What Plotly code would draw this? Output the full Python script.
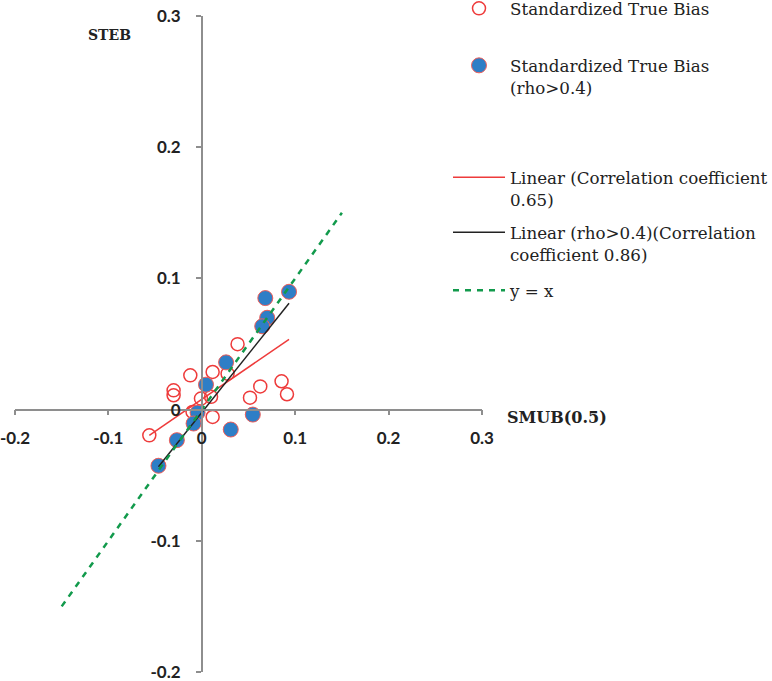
import plotly.graph_objects as go

# ---------------- data ----------------
# all points (Standardized True Bias) : SMUB(0.5) vs STEB
all_x = [0.0383, 0.0116, -0.0123, 0.0276, -0.0302, -0.0302, 0.0099, -0.0009,
         -0.0099, 0.0116, -0.0562, 0.0516, 0.0626, 0.0854, 0.0912,
         0.0934, 0.068, 0.070, 0.0647, 0.026, 0.0045, -0.0045, -0.0088,
         0.031, 0.0546, -0.0267, -0.0464]
all_y = [0.0499, 0.0287, 0.0261, 0.0274, 0.0147, 0.0109, 0.0097, 0.0084,
         -0.0018, -0.0056, -0.0196, 0.0091, 0.0177, 0.0216, 0.0117,
         0.0898, 0.085, 0.070, 0.0635, 0.036, 0.019, -0.0023, -0.0106,
         -0.0152, -0.0038, -0.0233, -0.0428]

# subset rho > 0.4
rho_x = [0.0934, 0.068, 0.070, 0.0647, 0.026, 0.0045, -0.0045, -0.0088,
         0.031, 0.0546, -0.0267, -0.0464]
rho_y = [0.0898, 0.085, 0.070, 0.0635, 0.036, 0.019, -0.0023, -0.0106,
         -0.0152, -0.0038, -0.0233, -0.0428]

# fitted trend lines (end points)
fit_all_x = [-0.0562, 0.0934]
fit_all_y = [-0.0196, 0.0536]
fit_rho_x = [-0.0464, 0.0934]
fit_rho_y = [-0.0435, 0.0810]

# reference line y = x
ref_x = [-0.15, 0.15]
ref_y = [-0.15, 0.15]

tick_vals = [-0.2, -0.1, 0.0, 0.1, 0.2, 0.3]
tick_text = ["-0.2", "-0.1", "0", "0.1", "0.2", "0.3"]

names = ["Standardized True Bias",
         "Standardized True Bias<br>(rho>0.4)",
         "Linear (Correlation coefficient<br>0.65)",
         "Linear (rho>0.4)(Correlation<br>coefficient 0.86)",
         "y = x"]

RED = "#ee3b3b"
BLUE = "#2e7ec6"
GREEN = "#129a4c"
AXC = "#8e8e8e"
W, H = 772, 681
LEFT, RIGHT, TOP, BOTTOM = 15, 482, 16, 672

fig = go.Figure()
fig.add_trace(go.Scatter(x=all_x, y=all_y, mode="markers", name=names[0],
                         marker=dict(symbol="circle", size=13, color="rgba(255,255,255,0)",
                                     line=dict(color=RED, width=1.5)),
                         legend="legend"))
fig.add_trace(go.Scatter(x=rho_x, y=rho_y, mode="markers", name=names[1],
                         marker=dict(symbol="circle", size=15, color=BLUE,
                                     line=dict(color="#f0605a", width=1)),
                         legend="legend2"))
fig.add_trace(go.Scatter(x=fit_all_x, y=fit_all_y, mode="lines", name=names[2],
                         line=dict(color=RED, width=1.5), legend="legend3"))
fig.add_trace(go.Scatter(x=fit_rho_x, y=fit_rho_y, mode="lines", name=names[3],
                         line=dict(color="#222222", width=1.5), legend="legend4"))
fig.add_trace(go.Scatter(x=ref_x, y=ref_y, mode="lines", name=names[4],
                         line=dict(color=GREEN, width=2.5, dash="6px,6px"), legend="legend5"))

LEG_OFF = 17  # distance from legend top to first line centre

def leg(py_center):
    top = py_center - LEG_OFF
    return dict(xref="paper", yref="paper", visible=True,
                x=(448 - LEFT) / (RIGHT - LEFT), y=(BOTTOM - top) / (BOTTOM - TOP),
                xanchor="left", yanchor="top", valign="top", itemwidth=52,
                bgcolor="rgba(0,0,0,0)", borderwidth=0,
                font=dict(family="DejaVu Serif", size=16.7, color="#222222"))

axis_common = dict(range=[-0.2, 0.3], tickvals=tick_vals, ticktext=tick_text,
                   showline=True, linecolor=AXC, linewidth=1.5, ticks="outside",
                   ticklen=5, tickcolor=AXC, tickwidth=1.5, showgrid=False, zeroline=False,
                   anchor="free", position=0.4, automargin=False,
                   ticklabeloverflow="allow",
                   tickfont=dict(family="Lato", size=17, color="#222222", weight="bold"))

fig.update_layout(
    width=W, height=H, showlegend=True,
    margin=dict(l=LEFT, r=W - RIGHT, t=TOP, b=H - BOTTOM, autoexpand=False),
    paper_bgcolor="white", plot_bgcolor="white",
    xaxis=dict(axis_common, ticklabelstandoff=8),
    yaxis=dict(axis_common, ticklabelstandoff=12),
    legend=leg(8),
    legend2=leg(65),
    legend3=leg(177),
    legend4=leg(232),
    legend5=leg(290),
    annotations=[
        dict(text="<b>STEB</b>", xref="paper", yref="paper",
             x=(109 - LEFT) / (RIGHT - LEFT), y=(BOTTOM - 35) / (BOTTOM - TOP),
             showarrow=False, xanchor="center", yanchor="middle",
             font=dict(family="DejaVu Serif", size=14, color="#222222")),
        dict(text="<b>SMUB(0.5)</b>", xref="paper", yref="paper",
             x=(505 - LEFT) / (RIGHT - LEFT), y=(BOTTOM - 417) / (BOTTOM - TOP),
             showarrow=False, xanchor="left", yanchor="middle",
             font=dict(family="DejaVu Serif", size=16, color="#222222")),
    ],
)

fig.write_html("out.html", config={"displayModeBar": False},
               post_script="document.body.style.margin='0px';document.body.style.overflow='hidden';")
